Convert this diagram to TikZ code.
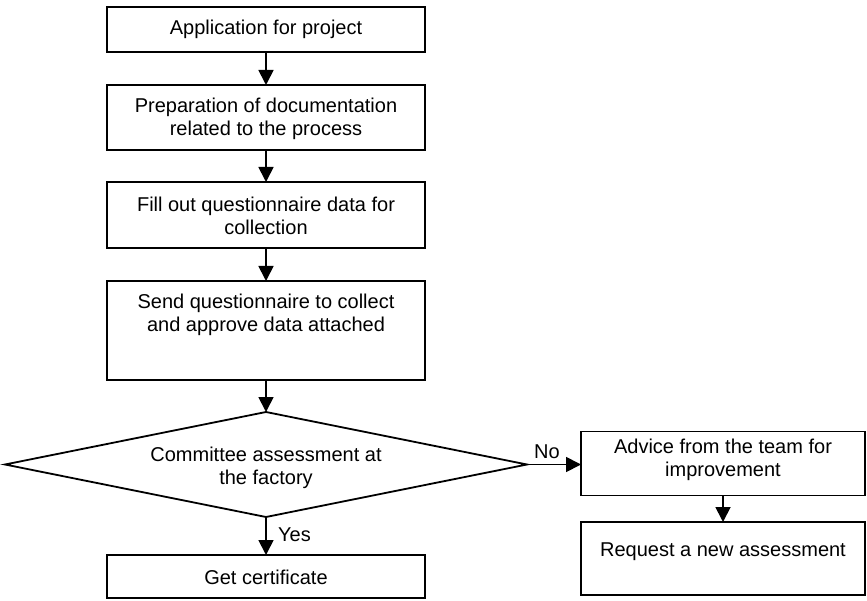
\documentclass[tikz,border=0pt]{standalone}
\usepackage{fontspec}
\setmainfont{Liberation Sans}
\usetikzlibrary{shapes.geometric,arrows.meta}
\begin{document}
\begin{tikzpicture}[x=1pt,y=-1pt,
  box/.style={draw,line width=1.8pt,rectangle,inner sep=0pt,outer sep=0pt},
  txt/.style={align=center,inner sep=0pt,font=\fontsize{20}{23}\selectfont},
  arr/.style={line width=1.8pt,-{Triangle[width=15pt,length=15pt]}}]
\useasboundingbox (0,0) rectangle (867,601);
% boxes
\node[box,minimum width=318pt,minimum height=45pt] (b1) at (266,29.5) {};
\node[txt] at (266,29) {Application for project};
\node[box,minimum width=318pt,minimum height=65pt] (b2) at (266,117.5) {};
\node[txt] at (266,118.5) {Preparation of documentation\\related to the process};
\node[box,minimum width=318pt,minimum height=66pt] (b3) at (266,215) {};
\node[txt] at (266,216) {Fill out questionnaire data for\\collection};
\node[box,minimum width=318pt,minimum height=99pt] (b4) at (266,330.5) {};
\node[txt] at (266,315) {Send questionnaire to collect\\and approve data attached};
% decision
\node[draw,line width=1.8pt,diamond,inner sep=0pt,outer sep=0pt,minimum width=522pt,minimum height=105pt] (d) at (266,464.5) {};
\node[txt] at (266,467.5) {Committee assessment at\\the factory};
\node[box,minimum width=318pt,minimum height=43pt] (b5) at (266,576.5) {};
\node[txt] at (266,577) {Get certificate};
\node[box,minimum width=284pt,minimum height=64pt] (b6) at (723,463.5) {};
\node[txt] at (723,460) {Advice from the team for\\improvement};
\node[box,minimum width=284pt,minimum height=73pt] (b7) at (723,558.5) {};
\node[txt] at (723,552) {Request a new assessment};
% connectors
\draw[arr] (b1.south) -- (b2.north);
\draw[arr] (b2.south) -- (b3.north);
\draw[arr] (b3.south) -- (b4.north);
\draw[arr] (b4.south) -- (d.north);
\draw[arr] (d.south) -- (b5.north);
\draw[arr] (d.east) -- (d.east -| b6.west);
\draw[arr] (b6.south) -- (b7.north);
% labels
\node[txt] (yes) at (294.5,535) {Yes};
\node[txt] (no) at (547,452) {No};
\end{tikzpicture}
\end{document}
